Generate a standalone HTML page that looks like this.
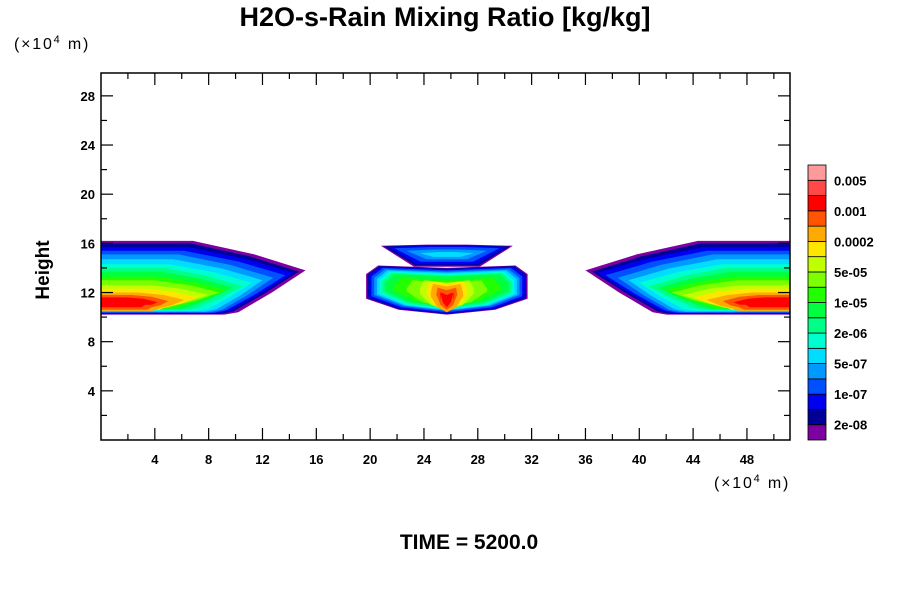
<!DOCTYPE html>
<html><head><meta charset="utf-8"><style>
body{margin:0;background:#fff;}
svg{display:block;font-family:"Liberation Sans",sans-serif;}
</style></head><body>
<svg id="chart" width="900" height="600" viewBox="0 0 900 600">
<text x="445" y="26" text-anchor="middle" font-size="27" font-weight="bold">H2O-s-Rain Mixing Ratio [kg/kg]</text>
<text x="14" y="49" font-size="16" letter-spacing="1.8">(×10<tspan font-size="11" dy="-6">4</tspan><tspan dy="6"> m)</tspan></text>
<text x="714" y="488" font-size="16" letter-spacing="1.8">(×10<tspan font-size="11" dy="-6">4</tspan><tspan dy="6"> m)</tspan></text>
<text x="49" y="270" font-size="19" font-weight="bold" text-anchor="middle" transform="rotate(-90 49 270)">Height</text>
<text x="469" y="549" font-size="21" font-weight="bold" text-anchor="middle">TIME = 5200.0</text>
<g id="plot"></g>
<g id="axes"></g>
<g id="cbar"></g>
</svg>
<script>
const colors=["#7f00a0","#000099","#0000f0","#0050ff","#0099ff","#00ddff","#00ffd0","#00ff88","#00ff40","#22ff00","#7cff00","#c0ff00","#ffe600","#ffaa00","#ff5500","#ff0000","#ff4848","#ff9a9a"];
const cbarLabels=["2e-08","1e-07","5e-07","2e-06","1e-05","5e-05","0.0002","0.001","0.005"];
const xTicks=[4,8,12,16,20,24,28,32,36,40,44,48];
const yTicks=[4,8,12,16,20,24,28];
// left blob levels: top, tipX, tipY, bottom, botX
const leftTop=[16.2,16.0,15.7,15.4,15.1,14.7,14.3,14.0,13.7,13.3,13.0,12.6,12.3,12.0,11.8,11.6];
const leftTipX=[15.2,14.7,14.3,13.7,12.8,12.0,11.2,10.5,9.8,9.3,8.8,8.0,7.2,6.2,5.0,4.2];
const leftTipY=[13.8,13.7,13.6,13.4,13.2,13.0,12.8,12.5,12.4,12.2,12.0,11.8,11.6,11.4,11.3,11.2];
const leftBot=[10.2,10.25,10.3,10.35,10.4,10.45,10.5,10.6,10.65,10.7,10.75,10.8,10.6,10.5,10.6,10.8];
const leftBotX=[10.2,9.8,9.6,9.3,9.0,8.6,8.0,7.2,6.6,6.0,5.5,5.0,4.8,4.3,3.8,3.3];
// center body levels
const cTop=[14.2,14.15,14.1,14.0,13.9,13.8,13.7,13.6,13.5,13.2,13.0,13.0,12.9,12.7,12.4,12.0];
const cBot=[10.2,10.25,10.3,10.4,10.5,10.55,10.6,10.7,10.8,10.9,10.8,10.6,10.5,10.4,10.6,10.8];
const cHw=[6.0,5.9,5.8,5.6,5.4,5.2,5.0,4.8,4.6,4.0,3.0,2.0,1.5,1.2,0.8,0.5];
// center hat levels
const hTop=[15.9,15.85,15.8,15.7,15.5,15.3];
const hBot=[14.1,14.2,14.3,14.5,14.7,14.9];
const hHw=[4.9,4.7,4.4,3.9,3.0,2.0];
const XMAX=51.2,YMAX=29.86,CX=25.7;
const L=101,R=790,T=73,B=440;
const sx=v=>L+v/XMAX*(R-L), sy=v=>B-v/YMAX*(B-T);
const NS="http://www.w3.org/2000/svg";
function mk(tag,attrs,parent){const e=document.createElementNS(NS,tag);for(const k in attrs)e.setAttribute(k,attrs[k]);parent.appendChild(e);return e;}
const plot=document.getElementById('plot');
function poly(pts,c,name){const p=mk('polygon',{points:pts.map(q=>sx(q[0]).toFixed(1)+','+sy(q[1]).toFixed(1)).join(' '),fill:c},plot);

}
for(let i=0;i<leftTop.length;i++){
  const t=leftTop[i],tx=leftTipX[i],ty=leftTipY[i],b=leftBot[i],bx=leftBotX[i];
  const pts=[[0,t],[tx*0.45,t],[tx*0.75,(t+ty)/2+0.1],[tx,ty],[bx+(tx-bx)*0.5,(ty+b)/2],[bx,b+0.2],[bx*0.9,b],[0,b]];
  poly(pts,colors[i],'left-contour-'+i);
  poly(pts.map(q=>[XMAX-q[0],q[1]]),colors[i],'right-contour-'+i);
}
for(let i=0;i<cTop.length;i++){
  const t=cTop[i],b=cBot[i],h=cHw[i];
  poly([[CX-h,t-0.7],[CX-h*0.85,t],[CX,t-0.2],[CX+h*0.85,t],[CX+h,t-0.7],[CX+h,b+1.3],[CX+h*0.6,b+0.4],[CX,b],[CX-h*0.6,b+0.4],[CX-h,b+1.3]],colors[i],'center-contour-'+i);
}
for(let i=0;i<hTop.length;i++){
  const t=hTop[i],b=hBot[i],h=hHw[i];
  poly([[CX-h,t-0.1],[CX-h*0.3,t],[CX+h*0.3,t],[CX+h,t-0.1],[CX+h*0.5,b],[CX-h*0.5,b]],colors[i],'cap-contour-'+i);
}
const ax=document.getElementById('axes');
mk('rect',{x:L,y:T,width:R-L,height:B-T,fill:'none',stroke:'#000','stroke-width':1.5},ax);
for(let v=2;v<XMAX;v+=2){const x=sx(v),len=(v%4==0)?12:6;
  mk('line',{x1:x,y1:B,x2:x,y2:B-len,stroke:'#000','stroke-width':1.2},ax);
  mk('line',{x1:x,y1:T,x2:x,y2:T+len,stroke:'#000','stroke-width':1.2},ax);}
for(let v=2;v<YMAX;v+=2){const y=sy(v),len=(v%4==0)?12:6;
  mk('line',{x1:L,y1:y,x2:L+len,y2:y,stroke:'#000','stroke-width':1.2},ax);
  mk('line',{x1:R,y1:y,x2:R-len,y2:y,stroke:'#000','stroke-width':1.2},ax);}
xTicks.forEach(v=>{const t=mk('text',{x:sx(v),y:B+24,'text-anchor':'middle','font-size':13,'font-weight':'bold'},ax);t.textContent=v;

});
yTicks.forEach(v=>{const t=mk('text',{x:L-6,y:sy(v)+5,'text-anchor':'end','font-size':13,'font-weight':'bold'},ax);t.textContent=v;

});
const cb=document.getElementById('cbar');
const cbT=165,cbB=440,segH=(cbB-cbT)/colors.length;
colors.forEach((c,i)=>{const r=mk('rect',{x:808,y:cbB-(i+1)*segH,width:18,height:segH,fill:c,stroke:'#000','stroke-width':0.8},cb);

});
cbarLabels.forEach((s,k)=>{const y=cbB-(2*k+1)*segH;const t=mk('text',{x:834,y:y+5,'font-size':13,'font-weight':'bold'},cb);t.textContent=s;

});
</script>
</body></html>
